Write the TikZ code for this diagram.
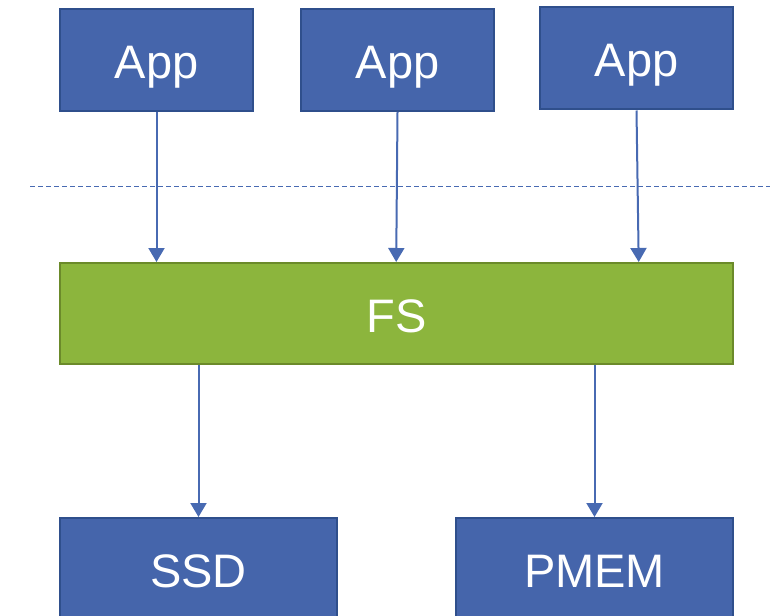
\documentclass[tikz,border=0pt]{standalone}
\usepackage{fontspec}
\setmainfont{Liberation Sans}
\usetikzlibrary{arrows.meta}
\definecolor{boxblue}{RGB}{69,101,171}
\definecolor{boxblueline}{RGB}{47,79,140}
\definecolor{fsgreen}{RGB}{140,181,61}
\definecolor{fsgreenline}{RGB}{107,138,42}
\definecolor{linkblue}{RGB}{72,106,178}
\tikzset{
  block/.style={draw=boxblueline, fill=boxblue, line width=2pt, text=white,
    font=\fontsize{47}{50}\selectfont, text height=40pt, text depth=3pt,
    inner sep=0pt, minimum height=102pt},
  appbox/.style={block, minimum width=193pt},
  devbox/.style={block, minimum width=277pt},
  fsbox/.style={block, draw=fsgreenline, fill=fsgreen, minimum width=673pt, minimum height=101pt},
  link/.style={draw=linkblue, line width=2pt, -{Triangle[width=16pt,length=14pt]}},
  layerline/.style={draw=linkblue, line width=1pt, dash pattern=on 5pt off 3pt}
}
\begin{document}
\begin{tikzpicture}[x=1pt,y=-1pt]
  \useasboundingbox (0,0) rectangle (770,615);
  % application layer
  \node[appbox] (app1) at (156.5,60)   {App};
  \node[appbox] (app2) at (397.5,60)   {App};
  \node[appbox] (app3) at (636.5,58.5) {App};
  % file system
  \node[fsbox]  (fs)   at (396.5,313.5) {FS};
  % storage devices
  \node[devbox] (ssd)  at (198.5,569) {SSD};
  \node[devbox] (pmem) at (594.5,569) {PMEM};
  % user / kernel boundary
  \coordinate (bl) at (30,186.5);
  \coordinate (br) at (770,186.5);
  \draw[layerline] (bl) -- (br);
  % connectors
  \draw[link] (app1.south) -- (app1.south |- fs.north);
  \draw[link] (app2.south) -- ([xshift=-1.3pt]app2.south |- fs.north);
  \draw[link] (app3.south) -- ([xshift=2.2pt]app3.south |- fs.north);
  \draw[link] (fs.south -| ssd.north) -- (ssd.north);
  \draw[link] (fs.south -| pmem.north) -- (pmem.north);
\end{tikzpicture}
\end{document}
